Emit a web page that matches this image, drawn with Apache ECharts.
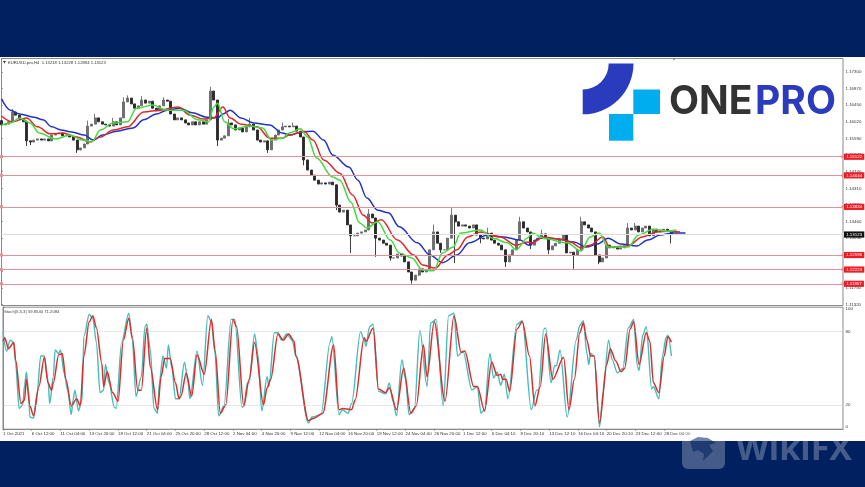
<!DOCTYPE html>
<html><head><meta charset="utf-8">
<style>html,body{margin:0;padding:0;background:#00205f}#c{width:865px;height:487px}</style>
<script src="https://cdn.jsdelivr.net/npm/echarts@6/dist/echarts.min.js"></script>
</head><body><div id="c"></div>
<script>
// Bar number of each candle = slot * 2 (one candle drawn per two H4 bars)
const closes=[1.1594,1.1596,1.1602,1.1627,1.1619,1.1609,1.1602,1.1553,1.1550,1.1555,1.1558,1.1555,1.1558,1.1553,1.1568,1.1571,1.1573,1.1566,1.1568,1.1563,
1.1555,1.1530,1.1535,1.1545,1.1591,1.1596,1.1612,1.1602,1.1596,1.1594,1.1591,1.1602,1.1594,1.1612,1.1653,1.1663,1.1648,1.1637,1.1643,1.1658,
1.1650,1.1655,1.1637,1.1630,1.1643,1.1658,1.1655,1.1622,1.1607,1.1612,1.1607,1.1599,1.1594,1.1602,1.1594,1.1602,1.1596,1.1607,1.1681,1.1658,
1.1555,1.1560,1.1566,1.1599,1.1594,1.1581,1.1586,1.1576,1.1589,1.1596,1.1581,1.1555,1.1550,1.1553,1.1530,1.1555,1.1568,1.1581,1.1589,1.1591,
1.1589,1.1591,1.1578,1.1563,1.1504,1.1478,1.1465,1.1452,1.1442,1.1445,1.1442,1.1447,1.1440,1.1388,1.1370,1.1375,1.1337,1.1309,1.1309,1.1316,
1.1319,1.1324,1.1365,1.1355,1.1303,1.1298,1.1290,1.1285,1.1252,1.1252,1.1262,1.1257,1.1242,1.1216,1.1195,1.1208,1.1224,1.1216,1.1221,1.1273,
1.1319,1.1290,1.1273,1.1273,1.1303,1.1362,1.1345,1.1334,1.1337,1.1334,1.1329,1.1337,1.1311,1.1303,1.1301,1.1316,1.1298,1.1290,1.1285,1.1273,
1.1242,1.1260,1.1273,1.1298,1.1345,1.1329,1.1319,1.1285,1.1298,1.1303,1.1314,1.1303,1.1273,1.1283,1.1290,1.1298,1.1311,1.1265,1.1267,1.1260,
1.1273,1.1345,1.1337,1.1329,1.1319,1.1260,1.1242,1.1252,1.1285,1.1278,1.1280,1.1275,1.1278,1.1283,1.1329,1.1324,1.1334,1.1319,1.1329,1.1334,
1.1309,1.1326,1.1319,1.1324,1.1326,1.1322,1.13123];
const visibleHighs={3:1.1635,7:1.1605,24:1.1605,26:1.1622,31:1.1612,34:1.1665,35:1.1670,39:1.1668,45:1.1665,58:1.1692,63:1.1610,69:1.1612,78:1.1600,81:1.1600,84:1.1530,93:1.1420,102:1.1378,120:1.1338,125:1.1380,135:1.1330,144:1.1358,150:1.1325,161:1.1358,174:1.1342,176:1.1342,186:1.13228};
const visibleLows={7:1.1540,8:1.1542,21:1.1522,22:1.1528,60:1.1540,74:1.1522,84:1.1490,93:1.1375,97:1.1265,104:1.1255,108:1.1245,114:1.1186,116:1.1205,122:1.1265,126:1.1239,133:1.1290,140:1.1229,147:1.1275,152:1.1262,159:1.1224,166:1.1236,174:1.1310,186:1.12894};
const firstOpen=1.1605, lastOpen=1.13218;

const blueMA=[[0,1.1661],[5,1.1632],[10,1.1622],[18,1.1614],[23,1.1607],[28,1.1589],[33,1.1581],[39,1.1576],[46,1.1568],[51,1.1555],[56,1.1568],[64,1.1578],[73,1.1586],[79,1.1607],[86,1.1622],[92,1.1632],[99,1.1637],[106,1.1625],[114,1.1614],[120,1.1612],[123,1.1622],[127,1.1632],[133,1.1612],[140,1.1599],[149,1.1594],[156,1.1573],[160,1.1568],[167,1.1576],[173,1.1578],[179,1.1555],[184,1.1517],[193,1.1486],[198,1.1452],[203,1.1406],[209,1.1375],[215,1.1368],[221,1.1332],[231,1.1291],[238,1.1260],[245,1.1240],[253,1.1260],[260,1.1291],[270,1.1311],[279,1.1306],[288,1.1298],[293,1.1285],[299,1.1303],[309,1.1301],[318,1.1293],[325,1.1280],[331,1.1288],[337,1.1303],[344,1.1288],[353,1.1283],[359,1.1298],[366,1.1311],[373,1.1316],[380,1.1316]];
const redMA=[[0,1.1617],[6,1.1602],[14,1.1612],[20,1.1589],[27,1.1571],[34,1.1573],[42,1.1563],[49,1.1550],[55,1.1563],[62,1.1581],[70,1.1589],[79,1.1627],[88,1.1632],[98,1.1640],[105,1.1619],[112,1.1609],[118,1.1612],[123,1.1640],[127,1.1612],[133,1.1596],[142,1.1589],[149,1.1560],[156,1.1560],[160,1.1568],[168,1.1578],[173,1.1555],[179,1.1504],[188,1.1470],[195,1.1414],[201,1.1362],[206,1.1342],[211,1.1350],[220,1.1298],[229,1.1260],[234,1.1234],[241,1.1226],[248,1.1260],[253,1.1273],[259,1.1306],[266,1.1319],[277,1.1306],[286,1.1285],[292,1.1293],[295,1.1291],[301,1.1306],[310,1.1301],[316,1.1293],[322,1.1278],[327,1.1285],[334,1.1306],[338,1.1280],[348,1.1283],[356,1.1306],[364,1.1319],[371,1.1321],[377,1.1319]];
const greenMA=[[0,1.1594],[5,1.1599],[10,1.1612],[16,1.1599],[21,1.1573],[30,1.1558],[38,1.1568],[45,1.1555],[50,1.1550],[55,1.1581],[62,1.1599],[70,1.1602],[75,1.1637],[84,1.1645],[92,1.1632],[101,1.1632],[109,1.1607],[115,1.1602],[118,1.1640],[120,1.1650],[124,1.1602],[129,1.1584],[138,1.1591],[145,1.1586],[150,1.1555],[156,1.1560],[160,1.1573],[166,1.1584],[170,1.1563],[175,1.1509],[184,1.1460],[188,1.1452],[194,1.1396],[199,1.1342],[203,1.1329],[209,1.1345],[216,1.1298],[221,1.1265],[228,1.1252],[234,1.1221],[240,1.1219],[245,1.1265],[251,1.1280],[255,1.1316],[266,1.1324],[273,1.1303],[281,1.1291],[286,1.1273],[292,1.1303],[295,1.1316],[301,1.1303],[314,1.1291],[322,1.1270],[327,1.1306],[332,1.1316],[337,1.1280],[348,1.1280],[354,1.1311],[362,1.1326],[370,1.1321],[375,1.1324]];

const stochMain=[[0,80],[2,64],[4,73],[6,71],[7,54],[9,17],[11,20],[12,36],[13,47],[14,35],[15,10],[17,9],[19,30],[21,60],[23,60],[25,41],[26,21],[28,43],[29,65],[31,62],[32,65],[34,46],[36,32],[38,12],[39,24],[40,32],[42,15],[44,24],[45,76],[48,94],[50,91],[52,71],[54,30],[56,32],[57,53],[59,38],[62,18],[63,17],[66,71],[70,95],[72,73],[74,27],[77,43],[79,84],[80,86],[82,65],[84,17],[86,13],[87,38],[89,60],[91,50],[92,69],[94,50],[96,25],[98,25],[101,55],[103,38],[104,25],[108,64],[111,36],[114,93],[116,88],[118,62],[120,11],[123,19],[127,90],[129,90],[133,18],[134,19],[136,38],[137,38],[140,78],[142,60],[144,15],[147,43],[148,35],[151,79],[153,79],[155,73],[158,78],[161,73],[163,60],
[170,5],[172,10],[177,12],[182,71],[183,76],[187,12],[189,16],[192,13],[194,21],[199,80],[201,73],[202,68],[204,84],[206,86],[209,31],[213,29],[215,38],[217,23],[219,11],[222,57],[224,41],[226,12],[229,17],[232,81],[236,35],[238,87],[241,90],[245,19],[248,93],[251,95],[253,60],[256,64],[261,32],[264,35],[266,13],[268,16],[271,62],[273,42],[275,47],[277,36],[279,45],[281,25],[286,86],[289,89],[294,16],[297,32],[298,32],[301,82],[302,83],[305,38],[307,52],[308,52],[310,65],[314,10],[319,73],
[321,85],[323,89],[325,62],[326,53],[327,62],[329,60],[332,2],[334,30],[337,73],[339,57],[342,46],[345,50],[348,83],[351,90],[353,52],[354,48],[356,77],[358,84],[361,33],[362,35],[365,25],[367,60],[369,75],[370,77],[372,59.854]];
const stochSignal=[[0,72],[1,75],[3,66],[6,71],[7,57],[10,21],[12,24],[13,41],[15,19],[17,11],[20,35],[23,59],[25,38],[27,32],[28,38],[31,61],[33,62],[35,41],[38,19],[41,25],[43,19],[45,60],[48,88],[50,93],[52,83],[55,54],[56,35],[58,47],[61,30],[64,23],[67,73],[70,91],[72,75],[75,32],[77,32],[80,83],[82,51],[86,16],[88,43],[90,58],[93,58],[96,38],[98,25],[99,27],[102,46],[105,27],[108,61],[112,45],[116,90],[118,65],[121,13],[124,20],[128,90],[130,84],[134,19],[137,41],[140,71],[145,20],[147,34],[149,41],[153,78],[156,73],[159,78],[162,72],[163,60],
[170,7],[173,9],[178,13],[184,69],[187,16],[189,17],[194,16],[196,24],[201,75],[202,72],[206,83],[209,33],[213,30],[215,34],[219,16],[223,50],[227,13],[230,19],[234,69],[236,43],[240,88],[246,23],[251,93],[255,63],[257,64],[262,35],[264,35],[268,15],[272,55],[275,44],[277,45],[278,41],[280,41],[282,31],[286,82],[289,88],[293,60],[296,19],[299,35],[302,78],[306,41],[312,59],[315,16],[318,41],[321,79],
[323,87],[325,73],[327,60],[329,60],[332,5],[336,53],[338,66],[341,56],[344,47],[346,50],[349,82],[351,88],[354,53],[358,79],[360,72],[362,38],[365,30],[368,60],[370,76],[372,71.2084]];

const priceLevels=[1.15122,1.14644,1.13834,1.12596,1.12223,1.11857];
const currentPrice=1.13123;
const priceTicks=[1.17300,1.16870,1.16450,1.16020,1.15590,1.15170,1.14740,1.14310,1.13880,1.13460,1.13030,1.12600,1.12180,1.11750,1.11320];
const stochTicks=[0,20,80,100];
const timeLabels=['1 Oct 2021','6 Oct 12:00','11 Oct 04:00','13 Oct 20:00','18 Oct 12:00','21 Oct 04:00','25 Oct 20:00','28 Oct 12:00','2 Nov 04:00','4 Nov 20:00','9 Nov 12:00','12 Nov 04:00','16 Nov 20:00','19 Nov 12:00','24 Nov 04:00','26 Nov 20:00','1 Dec 12:00','6 Dec 04:10','8 Dec 20:10','13 Dec 12:10','16 Dec 04:10','20 Dec 20:10','23 Dec 12:00','28 Dec 04:00'];
const barsPerLabel=16;
const priceTitle='EURUSD.pro,H4  1.13218 1.13228 1.12894 1.13123';
const stochTitle='Stoch(5,3,3) 59.8540 71.2084';

const FONT='"Liberation Sans",sans-serif', TICK=4.4;
const candles=closes.map((c,i)=>{
  const o=i===closes.length-1?lastOpen:(i?closes[i-1]:firstOpen);
  const hi=visibleHighs[i]!==undefined?visibleHighs[i]:Math.max(o,c);
  const lo=visibleLows[i]!==undefined?visibleLows[i]:Math.min(o,c);
  return [i*2,o,c,lo,hi];
});
const xCommon={type:'value',min:0,max:467.5,splitLine:{show:false}};
const xTicks=timeLabels.map((_,i)=>i*barsPerLabel);
const levelLabel=(bg)=>({show:true,position:'end',distance:1,formatter:p=>p.value.toFixed(5),color:'#fff',fontFamily:FONT,fontSize:TICK,backgroundColor:bg,padding:[1.2,2.2,1,2.2]});
const chart=echarts.init(document.getElementById('c'),null,{width:865,height:487,renderer:'canvas'});
const grey='#8a8a8a';
chart.setOption({
  animation:false,backgroundColor:'#00205f',
  title:[
    {text:priceTitle,left:8,top:60.5,padding:0,textStyle:{fontFamily:FONT,fontSize:4.2,fontWeight:'normal',color:'#333'}},
    {text:stochTitle,left:4,top:309.5,padding:0,textStyle:{fontFamily:FONT,fontSize:4.2,fontWeight:'normal',color:'#444'}}
  ],
  grid:[
    {left:1.5,right:22,top:58.5,height:247,show:true,borderColor:grey,borderWidth:1,backgroundColor:'#fff'},
    {left:1.5,right:22,top:307.2,height:122,show:true,borderColor:grey,borderWidth:1,backgroundColor:'#fff'}
  ],
  xAxis:[
    Object.assign({gridIndex:0,show:false},xCommon),
    Object.assign({gridIndex:1,axisLine:{show:true,lineStyle:{color:grey}},
      axisTick:{show:true,length:1.5,customValues:xTicks,lineStyle:{color:'#666',width:.6}},
      axisLabel:{customValues:xTicks,formatter:v=>timeLabels[Math.round(v/barsPerLabel)]||'',align:'left',margin:2.5,color:'#333',fontFamily:FONT,fontSize:TICK,hideOverlap:false}},xCommon)
  ],
  yAxis:[
    {type:'value',gridIndex:0,position:'right',min:1.11299,max:1.17647,scale:true,splitLine:{show:false},
      axisLine:{show:true,lineStyle:{color:grey}},
      axisTick:{show:true,length:1.5,customValues:priceTicks,lineStyle:{color:'#666',width:.6}},
      axisLabel:{customValues:priceTicks,formatter:v=>v.toFixed(5),margin:2.5,color:'#333',fontFamily:FONT,fontSize:TICK}},
    {type:'value',gridIndex:1,position:'right',min:0,max:100,splitLine:{show:false},
      axisLine:{show:true,lineStyle:{color:grey}},
      axisTick:{show:true,length:1.5,customValues:stochTicks,lineStyle:{color:'#666',width:.6}},
      axisLabel:{customValues:stochTicks,margin:2.5,color:'#333',fontFamily:FONT,fontSize:TICK,verticalAlignMaxLabel:'top',verticalAlignMinLabel:'bottom'}}
  ],
  series:[
    {type:'candlestick',xAxisIndex:0,yAxisIndex:0,barWidth:2.4,data:candles,encode:{x:0,y:[1,2,3,4]},
      itemStyle:{color:'#6e6e6e',color0:'#2a2a2a',borderColor:'#6a6a6a',borderColor0:'#2a2a2a',borderWidth:.9},
      markLine:{silent:true,symbol:['rect','rect'],symbolSize:[3,3],precision:6,animation:false,
        lineStyle:{type:'solid',color:'#e2939a',width:1.2,opacity:1},
        emphasis:{disabled:true},
        data:priceLevels.map(v=>({yAxis:v,label:levelLabel('#ee1c25')})).concat([{yAxis:currentPrice,symbol:'none',lineStyle:{color:'#dcdcdc',width:1},label:levelLabel('#111')}])}},
    {type:'line',name:'Blue MA',xAxisIndex:0,yAxisIndex:0,data:blueMA,smooth:.35,smoothMonotone:'x',showSymbol:false,lineStyle:{color:'#1f33c4',width:1.5}},
    {type:'line',name:'Red MA',xAxisIndex:0,yAxisIndex:0,data:redMA,smooth:.35,smoothMonotone:'x',showSymbol:false,lineStyle:{color:'#e3262b',width:1.5}},
    {type:'line',name:'Green MA',xAxisIndex:0,yAxisIndex:0,data:greenMA,smooth:.35,smoothMonotone:'x',showSymbol:false,lineStyle:{color:'#3fdc3f',width:1.5}},
    {type:'line',name:'Stoch main',xAxisIndex:1,yAxisIndex:1,data:stochMain,smooth:.3,smoothMonotone:'x',showSymbol:false,lineStyle:{color:'#45bdb8',width:1.4},
      markLine:{silent:true,symbol:'none',animation:false,label:{show:false},lineStyle:{type:'dotted',color:'#c4c4c4',width:.8},data:[{yAxis:20},{yAxis:80}]}},
    {type:'line',name:'Stoch signal',xAxisIndex:1,yAxisIndex:1,data:stochSignal,smooth:.3,smoothMonotone:'x',showSymbol:false,lineStyle:{color:'#d8302f',width:1.5}}
  ],
  graphic:[
    {type:'rect',z:-10,silent:true,shape:{x:0,y:57,width:865,height:384},style:{fill:'#fff'}},
    {type:'polygon',z:10,shape:{points:[[3,61],[6,61],[4.5,63.5]]},style:{fill:'#333'}},
    {type:'polygon',z:10,shape:{points:[[672.5,58.5],[675.5,58.5],[674,60.5]]},style:{fill:'#888'}},
    // ONEPRO logo
    {type:'sector',z:20,shape:{cx:582.7,cy:63.5,r0:26,r:50.8,startAngle:0,endAngle:Math.PI/2,clockwise:true},style:{fill:'#2a3bbd'}},
    {type:'rect',z:20,shape:{x:633.3,y:89.5,width:26.7,height:24.5},style:{fill:'#00aeef'}},
    {type:'rect',z:20,shape:{x:609,y:114,width:24.3,height:26.7},style:{fill:'#00aeef'}},
    {type:'text',z:20,style:{text:'ONE',x:669,y:102,verticalAlign:'middle',font:'700 39px Inter,sans-serif',fill:'#333333'}},
    {type:'text',z:20,style:{text:'PRO',x:755,y:102,verticalAlign:'middle',font:'700 39px Inter,sans-serif',fill:'#2a3bbd'}},
    // WikiFX watermark
    {type:'rect',z:30,shape:{x:682,y:430,width:43,height:39,r:6},style:{fill:'rgba(255,255,255,.27)'}},
    {type:'polygon',z:31,shape:{points:[[690,441],[698,437],[708,438],[716,443],[709,445],[713,451],[703,461],[704,454],[698,450],[693,452]]},style:{fill:'rgba(0,32,95,.55)'}},
    {type:'text',z:30,style:{text:'WikiFX',x:736,y:450,verticalAlign:'middle',font:'700 34px "Open Sans",sans-serif',fill:'rgba(255,255,255,.27)'}}
  ]
});
</script></body></html>
